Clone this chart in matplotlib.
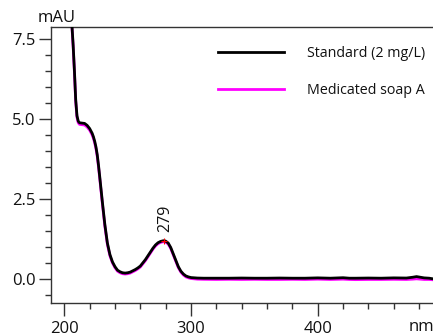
import matplotlib
matplotlib.use("Agg")
import matplotlib.pyplot as plt
from matplotlib.ticker import MultipleLocator, FormatStrFormatter

# ---- data ----
wavelength = [204, 206, 207, 208, 209, 210, 211, 212, 214, 216, 218, 220, 222, 223, 224,
              225, 226, 227, 228, 229, 230, 232, 234, 236, 238, 240, 242, 244, 246, 248, 250, 252,
              254, 256, 258, 260, 262, 264, 266, 268, 270, 272, 274, 276, 278, 279,
              280, 282, 284, 286, 288, 290, 292, 294, 296, 298, 300, 305, 310, 320,
              330, 340, 350, 360, 370, 380, 390, 400, 410, 420, 425, 430, 440, 450,
              460, 470, 475, 478, 481, 484, 488, 491]
standard = [9.00, 7.95, 7.30, 6.50, 5.60, 5.10, 4.93, 4.88, 4.87, 4.86, 4.80, 4.70, 4.55, 4.44, 4.30,
            4.12, 3.88, 3.55, 3.18, 2.80, 2.42, 1.70, 1.12, 0.76, 0.53, 0.38, 0.27, 0.22, 0.19, 0.18, 0.19, 0.21,
            0.25, 0.29, 0.34, 0.40, 0.50, 0.60, 0.72, 0.84, 0.96, 1.06, 1.13, 1.17, 1.19, 1.19,
            1.18, 1.12, 0.98, 0.78, 0.58, 0.38, 0.24, 0.15, 0.09, 0.06, 0.04, 0.025, 0.02, 0.02,
            0.02, 0.025, 0.02, 0.02, 0.025, 0.02, 0.02, 0.03, 0.02, 0.035, 0.02, 0.02, 0.025, 0.02,
            0.03, 0.025, 0.05, 0.07, 0.05, 0.03, 0.02, 0.00]
medicated = [8.95, 7.90, 7.25, 6.45, 5.55, 5.05, 4.88, 4.83, 4.82, 4.81, 4.75, 4.65, 4.50, 4.39, 4.25,
             4.07, 3.83, 3.50, 3.13, 2.75, 2.37, 1.65, 1.08, 0.72, 0.50, 0.35, 0.24, 0.19, 0.16, 0.15, 0.16, 0.18,
             0.22, 0.26, 0.31, 0.37, 0.47, 0.57, 0.69, 0.81, 0.93, 1.03, 1.10, 1.14, 1.16, 1.16,
             1.15, 1.09, 0.95, 0.75, 0.55, 0.35, 0.21, 0.12, 0.06, 0.03, 0.01, -0.01, -0.015, -0.02,
             -0.015, -0.02, -0.015, -0.02, -0.02, -0.015, -0.02, -0.01, -0.02, -0.01, -0.02, -0.025, -0.02, -0.02,
             -0.015, -0.02, -0.01, 0.00, -0.01, -0.02, -0.02, -0.03]
series_labels = ["Standard (2 mg/L)", "Medicated soap A"]
peak_wavelength = 279
peak_value = 1.19

FONT = ["Open Sans", "DejaVu Sans"]
plt.rcParams["font.family"] = FONT

fig = plt.figure(figsize=(4.33, 3.33), dpi=100)
ax = fig.add_axes([51 / 433, 30.5 / 333, 1 - 51 / 433, (302.5 - 27) / 333])

ax.plot(wavelength, medicated, color="#ff00ff", lw=2.0, label=series_labels[1], zorder=2)
ax.plot(wavelength, standard, color="black", lw=2.0, label=series_labels[0], zorder=3)
ax.plot([peak_wavelength], [peak_value], marker="+", color="red", ms=4, mew=0.8, zorder=4)
ax.text(peak_wavelength + 0.5, peak_value + 0.27, str(peak_wavelength), rotation=90,
        ha="center", va="bottom", fontsize=11.5, color="#111")

ax.set_xlim(189.5, 491)
ax.set_ylim(-0.74, 7.875)
ax.xaxis.set_major_locator(MultipleLocator(100))
ax.xaxis.set_minor_locator(MultipleLocator(20))
ax.yaxis.set_major_locator(MultipleLocator(2.5))
ax.yaxis.set_minor_locator(MultipleLocator(0.5))
ax.yaxis.set_major_formatter(FormatStrFormatter("%.1f"))

ax.spines["right"].set_visible(False)
for s in ["left", "bottom", "top"]:
    ax.spines[s].set_color("#333")
    ax.spines[s].set_linewidth(1.0)

ax.tick_params(axis="both", which="major", direction="out", length=9, width=1,
               color="#333", labelsize=12, labelcolor="#111")
ax.tick_params(axis="both", which="minor", direction="out", length=4.5, width=1, color="#333")
ax.tick_params(axis="y", which="major", pad=2)
ax.tick_params(axis="x", which="major", pad=4)

fig.text(57 / 433, 1 - 26 / 333, "mAU", ha="center", va="bottom", fontsize=12, color="#111")
fig.text(409 / 433, 1 - 319 / 333, "nm", ha="left", va="top", fontsize=12, color="#111")

handles, labels = ax.get_legend_handles_labels()
leg = ax.legend(handles[::-1], labels[::-1], loc="upper left",
                bbox_to_anchor=(218 / 433, 1 - 46 / 333), bbox_transform=fig.transFigure,
                frameon=False, fontsize=10.3, handlelength=4.6, handletextpad=1.6,
                labelspacing=1.55, borderpad=0, borderaxespad=0)
for t in leg.get_texts():
    t.set_color("#111")

fig.savefig("out.png", dpi=100)
